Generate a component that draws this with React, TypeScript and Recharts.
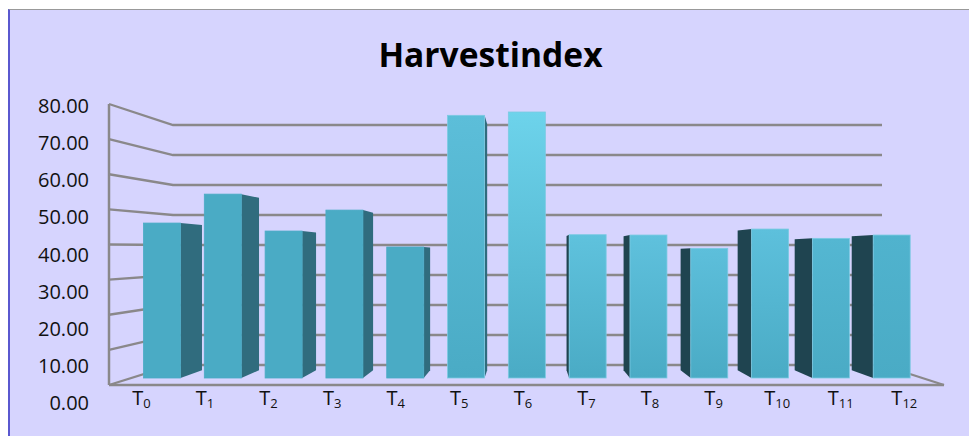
import { Bar, BarChart, CartesianGrid, XAxis, YAxis } from "recharts";

const TITLE = "Harvestindex";
const TREATMENTS = ["0", "1", "2", "3", "4", "5", "6", "7", "8", "9", "10", "11", "12"];
const HARVEST_INDEX = [46.6, 55.3, 44.2, 50.5, 39.4, 79, 80, 43.1, 43, 39, 44.8, 42, 43];
const Y_TICKS = [0, 10, 20, 30, 40, 50, 60, 70, 80];

const FACE_TOPS = ["#4aabc5", "#4aabc5", "#4aabc5", "#4aabc5", "#4aabc5", "#5cbed9", "#6dd3eb", "#5fc2dd", "#5fc1dd", "#5dbfdb", "#5dc0dc", "#54b7d2", "#50b3ce"];
const FACE_BOTTOM = "#4aabc5";
const SIDE_LEFT = "#306c7e";
const SIDE_RIGHT = "#1f4450";
const WALL = "#8a888a";
const FONT = "'Open Sans', sans-serif";

const PLOT_BOTTOM = 378;
const PLOT_HEIGHT = 266;
const WALL_LEFT = 109;
const BACK_LEFT = 173;
const BACK_RIGHT = 882;
const FLOOR_RIGHT = 944;

// the old 3D chart: front edge, back wall and labels each have their own vertical spacing
const share = (y: number) => (PLOT_BOTTOM - y) / PLOT_HEIGHT;
const frontY = (y: number) => 385 - 281 * share(y);
const backY = (y: number) => 365 - 240 * share(y);
const labelY = (y: number) => 410 - 297 * share(y);

// vanishing point of the bar sides
const VP_X = 527;
const VP_Y = 254;
const DEPTH = 0.062;

function GridLine(props: any) {
  const y = props.y1;
  const isFloor = share(y) < 0.001;
  return (
    <g key={props.key}>
      <polyline
        points={`${WALL_LEFT},${frontY(y)} ${BACK_LEFT},${backY(y)} ${BACK_RIGHT},${backY(y)}`}
        fill="none"
        stroke={WALL}
        strokeWidth={2.3}
      />
      {isFloor && (
        <>
          <line x1={WALL_LEFT} y1={frontY(y) - 281} x2={WALL_LEFT} y2={frontY(y)} stroke={WALL} strokeWidth={2.5} />
          <line x1={WALL_LEFT} y1={frontY(y)} x2={FLOOR_RIGHT} y2={frontY(y)} stroke={WALL} strokeWidth={2.3} />
          <line x1={BACK_RIGHT} y1={backY(y)} x2={FLOOR_RIGHT} y2={frontY(y)} stroke={WALL} strokeWidth={2.3} />
        </>
      )}
    </g>
  );
}

function Prism(props: any) {
  const { x, y, width, height, index } = props;
  const bottom = y + height;
  const right = x + width;
  const back = (px: number, py: number) => `${px + (VP_X - px) * DEPTH},${py + (VP_Y - py) * DEPTH}`;
  const edge = right < VP_X ? right : x > VP_X ? x : null;
  return (
    <g>
      {edge !== null && (
        <polygon
          points={`${edge},${y} ${back(edge, y)} ${back(edge, bottom)} ${edge},${bottom}`}
          fill={right < VP_X ? SIDE_LEFT : SIDE_RIGHT}
        />
      )}
      <rect
        x={x}
        y={y}
        width={width}
        height={height}
        fill={`url(#face${index})`}
        stroke={index >= 5 ? "#7ccae2" : FACE_BOTTOM}
        strokeWidth={0.8}
      />
    </g>
  );
}

function ValueTick(props: any) {
  return (
    <text x={89} y={labelY(props.y)} textAnchor="end" fontFamily={FONT} fontSize={20} fill="#111">
      {Number(props.payload.value).toFixed(2)}
    </text>
  );
}

function TreatmentTick(props: any) {
  const x = 141 + (props.x - 161.5) * 1.0455;
  return (
    <text x={x} y={405} textAnchor="middle" fontFamily={FONT} fontSize={20} fill="#111">
      T
      <tspan dy={3} fontSize={13}>
        {props.payload.value}
      </tspan>
    </text>
  );
}

export default function App() {
  const data = TREATMENTS.map((t, i) => ({ t, value: HARVEST_INDEX[i] }));
  return (
    <div style={{ position: "absolute", left: 0, top: 0, width: 969, height: 436, background: "#fff", overflow: "hidden" }}>
      <div
        style={{
          position: "absolute",
          left: 8,
          top: 9,
          right: 0,
          bottom: 0,
          background: "#d6d4fe",
          borderLeft: "2px solid #5a58cf",
          borderTop: "1px solid #999",
        }}
      />
      <div
        style={{
          position: "absolute",
          left: 0,
          width: 981,
          top: 32,
          textAlign: "center",
          fontFamily: FONT,
          fontWeight: 700,
          fontSize: 33.6,
          lineHeight: "44px",
          color: "#000",
        }}
      >
        {TITLE}
      </div>
      <div style={{ position: "absolute", left: 0, top: 0 }}>
        <BarChart width={969} height={436} data={data} margin={{ top: 112, right: 47, bottom: 0, left: 0 }}>
          <defs>
            {FACE_TOPS.map((c, i) => (
              <linearGradient key={i} id={`face${i}`} x1="0" y1="0" x2="0" y2="1">
                <stop offset="0" stopColor={c} />
                <stop offset="1" stopColor={FACE_BOTTOM} />
              </linearGradient>
            ))}
          </defs>
          <CartesianGrid vertical={false} horizontal={GridLine} />
          <XAxis dataKey="t" height={58} axisLine={false} tickLine={false} interval={0} tick={TreatmentTick} />
          <YAxis width={131.5} domain={[0, 80]} ticks={Y_TICKS} axisLine={false} tickLine={false} interval={0} tick={ValueTick} />
          <Bar dataKey="value" barSize={37} shape={Prism} isAnimationActive={false} />
        </BarChart>
      </div>
    </div>
  );
}
